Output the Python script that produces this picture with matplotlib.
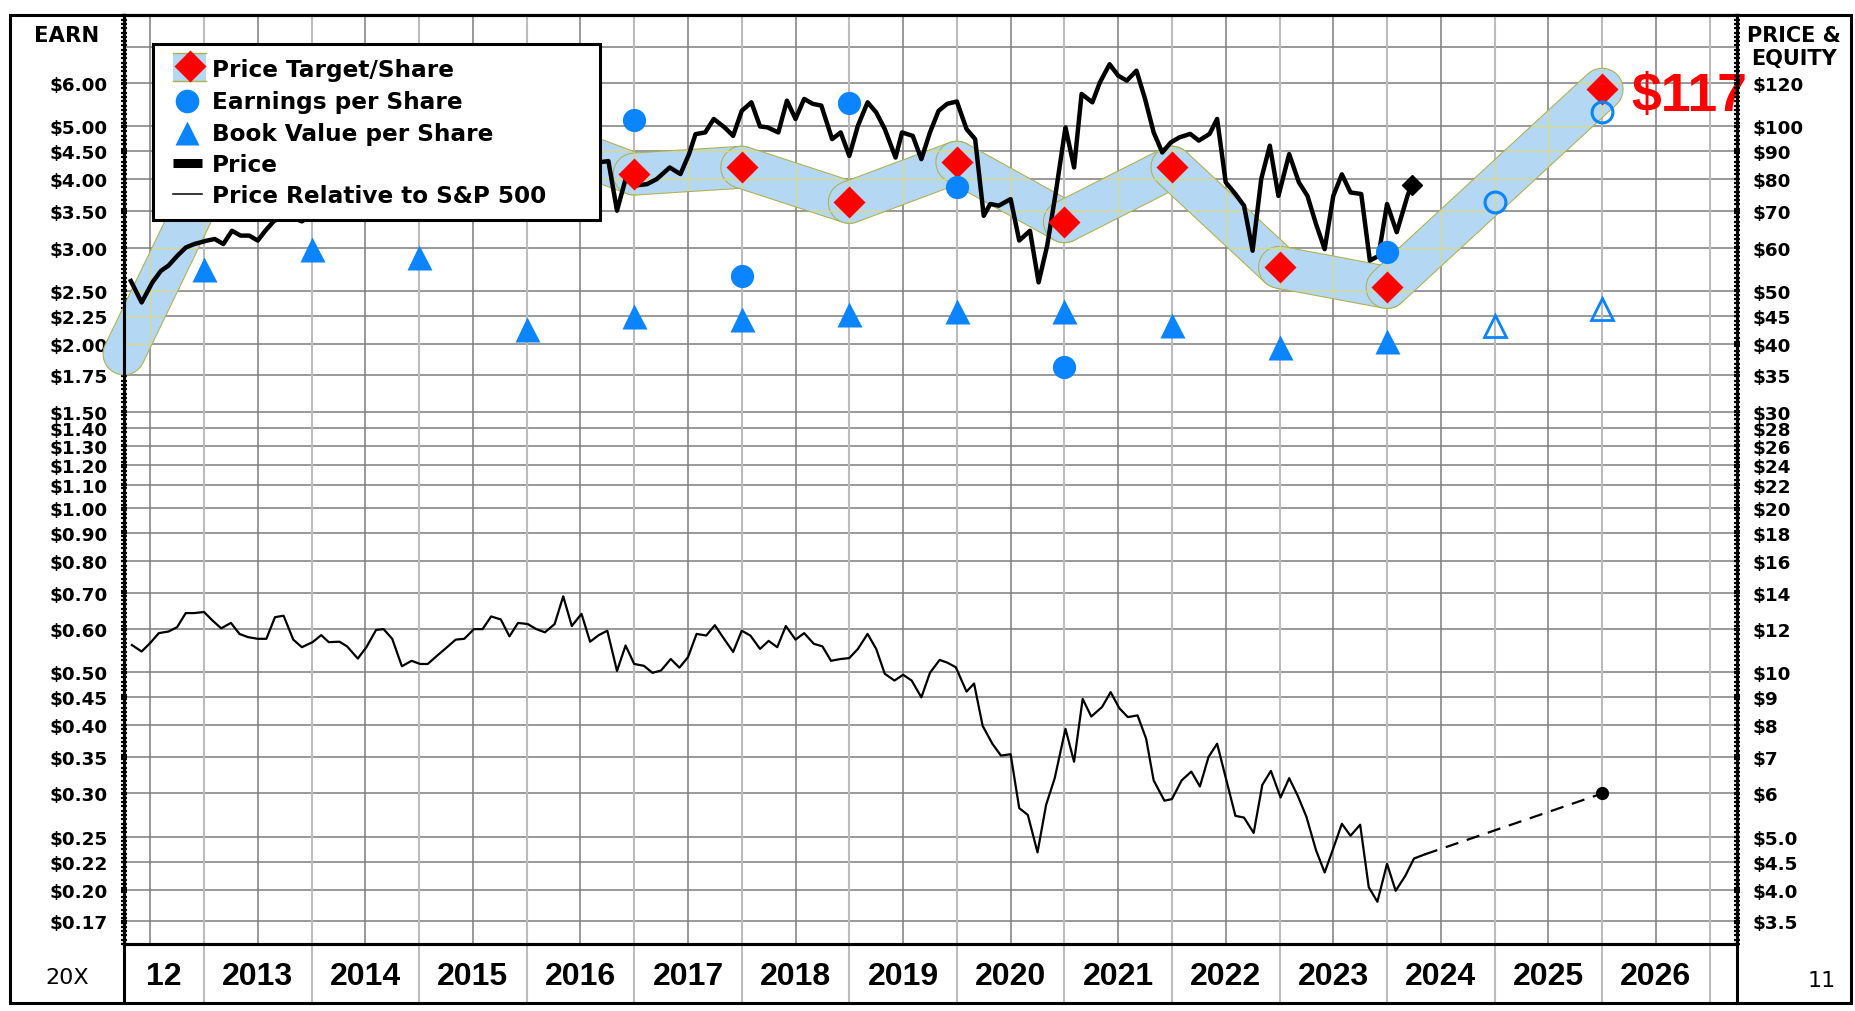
import numpy as np
import matplotlib
matplotlib.use('Agg')
import matplotlib.pyplot as plt
import matplotlib.transforms as mtransforms
from matplotlib.path import Path
from matplotlib.collections import LineCollection
from matplotlib.lines import Line2D
from matplotlib.patches import Rectangle
from matplotlib.ticker import FixedLocator, NullFormatter

W, H = 1856, 1012
RATIO = 20  # price scale is 20x the earnings scale

# ---------------- data ----------------
# monthly share price, $ (right scale)
price_x = [2012.32, 2012.42, 2012.52, 2012.60, 2012.67, 2012.75, 2012.83, 2012.91,
           2013.03, 2013.10, 2013.18, 2013.26, 2013.34, 2013.42, 2013.50, 2013.57,
           2013.65, 2013.77, 2013.91, 2014.10, 2014.40, 2014.75, 2015.10, 2015.50,
           2015.90, 2016.30, 2016.55, 2016.68, 2016.76, 2016.84, 2016.92, 2017.00,
           2017.12, 2017.21, 2017.33, 2017.43, 2017.51, 2017.57, 2017.66, 2017.74,
           2017.84, 2017.92, 2018.00, 2018.09, 2018.17, 2018.24, 2018.34, 2018.42,
           2018.50, 2018.58, 2018.66, 2018.74, 2018.84, 2018.92, 2019.00, 2019.08,
           2019.17, 2019.25, 2019.33, 2019.43, 2019.49, 2019.59, 2019.67, 2019.75,
           2019.83, 2019.91, 2020.00, 2020.09, 2020.17, 2020.25, 2020.31, 2020.39,
           2020.50, 2020.58, 2020.68, 2020.76, 2020.84, 2020.92, 2021.01, 2021.09,
           2021.16, 2021.26, 2021.33, 2021.42, 2021.50, 2021.58, 2021.67, 2021.75,
           2021.83, 2021.91, 2021.99, 2022.07, 2022.17, 2022.25, 2022.35, 2022.42,
           2022.50, 2022.59, 2022.67, 2022.75, 2022.83, 2022.91, 2022.99, 2023.09,
           2023.18, 2023.26, 2023.34, 2023.42, 2023.50, 2023.58, 2023.66, 2023.76,
           2023.84, 2023.92, 2024.00, 2024.09, 2024.19, 2024.23]
price_y = [52.1, 47.6, 51.8, 54.4, 55.6, 57.9, 60.0, 60.9,
           61.8, 62.2, 60.9, 64.4, 63.1, 63.1, 61.8, 64.4,
           67.1, 68.8, 67.0, 71.0, 75.0, 80.0, 84.0, 88.0,
           86.0, 90.0, 92.0, 86.0, 86.4, 70.1, 80.1, 77.9,
           78.4, 80.1, 84.1, 81.8, 89.0, 96.8, 97.5, 103.2,
           99.6, 96.1, 106.8, 110.7, 100.0, 99.6, 97.5, 111.5,
           103.2, 112.3, 110.0, 109.2, 94.8, 97.5, 88.3, 100.3,
           110.7, 106.1, 98.9, 87.7, 97.5, 96.1, 87.1, 97.5,
           106.8, 110.0, 111.1, 98.9, 94.8, 68.6, 72.1, 71.6,
           73.6, 61.8, 64.4, 51.8, 60.5, 75.7, 99.6, 84.1,
           114.7, 110.7, 120.4, 130.0, 123.9, 121.3, 126.5, 112.3,
           97.5, 89.6, 93.5, 95.5, 96.9, 94.2, 96.9, 103.2,
           79.0, 75.2, 71.6, 59.2, 80.1, 92.2, 74.6, 89.0,
           79.0, 74.6, 66.2, 59.6, 74.6, 81.7, 75.7, 75.2,
           56.8, 57.9, 72.1, 64.0, 74.6, 78.2]

# price relative to S&P 500 (plotted on the left scale)
rel_x = [2012.33, 2012.42, 2012.50, 2012.58, 2012.67, 2012.75, 2012.83, 2012.91,
         2013.00, 2013.08, 2013.16, 2013.25, 2013.33, 2013.41, 2013.50, 2013.58,
         2013.66, 2013.74, 2013.83, 2013.91, 2014.01, 2014.09, 2014.16, 2014.26,
         2014.33, 2014.43, 2014.51, 2014.60, 2014.67, 2014.75, 2014.84, 2014.93,
         2015.01, 2015.08, 2015.17, 2015.26, 2015.34, 2015.42, 2015.51, 2015.59,
         2015.67, 2015.76, 2015.84, 2015.92, 2016.01, 2016.09, 2016.17, 2016.26,
         2016.34, 2016.42, 2016.51, 2016.59, 2016.67, 2016.75, 2016.84, 2016.92,
         2017.00, 2017.09, 2017.17, 2017.25, 2017.34, 2017.42, 2017.50, 2017.58,
         2017.67, 2017.75, 2017.83, 2017.92, 2018.00, 2018.08, 2018.17, 2018.25,
         2018.33, 2018.41, 2018.50, 2018.58, 2018.67, 2018.75, 2018.83, 2018.92,
         2019.00, 2019.08, 2019.17, 2019.25, 2019.33, 2019.42, 2019.50, 2019.58,
         2019.67, 2019.75, 2019.84, 2019.91, 2019.99, 2020.09, 2020.16, 2020.24,
         2020.33, 2020.41, 2020.50, 2020.58, 2020.66, 2020.75, 2020.83, 2020.91,
         2021.01, 2021.09, 2021.17, 2021.25, 2021.35, 2021.43, 2021.51, 2021.59,
         2021.68, 2021.76, 2021.83, 2021.93, 2022.00, 2022.09, 2022.18, 2022.26,
         2022.34, 2022.42, 2022.51, 2022.59, 2022.67, 2022.76, 2022.84, 2022.92,
         2023.01, 2023.09, 2023.17, 2023.25, 2023.34, 2023.42, 2023.50, 2023.58,
         2023.66, 2023.75, 2023.83, 2023.91, 2024.00, 2024.08, 2024.17, 2024.25,
         2024.35]
rel_y = [0.561, 0.546, 0.566, 0.590, 0.594, 0.605, 0.642, 0.642,
         0.645, 0.622, 0.602, 0.616, 0.588, 0.580, 0.576, 0.576,
         0.631, 0.635, 0.574, 0.556, 0.568, 0.585, 0.568, 0.569,
         0.558, 0.530, 0.556, 0.598, 0.600, 0.576, 0.513, 0.525,
         0.518, 0.518, 0.537, 0.556, 0.574, 0.576, 0.600, 0.600,
         0.633, 0.625, 0.582, 0.616, 0.613, 0.600, 0.592, 0.613,
         0.689, 0.608, 0.640, 0.569, 0.585, 0.596, 0.503, 0.560,
         0.518, 0.514, 0.499, 0.504, 0.529, 0.510, 0.533, 0.588,
         0.584, 0.610, 0.578, 0.545, 0.596, 0.584, 0.552, 0.571,
         0.556, 0.608, 0.574, 0.590, 0.564, 0.558, 0.525, 0.529,
         0.531, 0.552, 0.588, 0.552, 0.497, 0.483, 0.495, 0.483,
         0.450, 0.499, 0.527, 0.521, 0.511, 0.461, 0.477, 0.399,
         0.370, 0.352, 0.354, 0.282, 0.274, 0.234, 0.286, 0.320,
         0.394, 0.343, 0.447, 0.415, 0.432, 0.460, 0.430, 0.414,
         0.417, 0.378, 0.317, 0.291, 0.293, 0.317, 0.329, 0.309,
         0.350, 0.370, 0.315, 0.273, 0.271, 0.254, 0.311, 0.330,
         0.295, 0.320, 0.297, 0.272, 0.236, 0.215, 0.238, 0.264,
         0.251, 0.263, 0.202, 0.190, 0.223, 0.199, 0.212, 0.228,
         0.232]
rel_proj_x = [2024.35, 2026.0]
rel_proj_y = [0.232, 0.300]

# price target per share, $ (right scale); band starts at the left edge
band_x0, band_y0 = 2012.256, 38.3
target_years = [2013, 2014, 2015, 2016, 2017, 2018, 2019, 2020, 2021, 2022, 2023, 2024, 2026]
target_price = [77.0, 86.0, 92.0, 97.0, 81.8, 84.2, 72.6, 86.0, 66.9, 84.2, 55.2, 50.7, 117.0]

# earnings per share, $ (left scale)
eps_years = [2017, 2018, 2019, 2020, 2021, 2024]
eps = [5.14, 2.66, 5.51, 3.87, 1.81, 2.94]
eps_est_years = [2025, 2026]
eps_est = [3.63, 5.31]

# book value per share, $ (right scale)
bv_years = [2013, 2014, 2015, 2016, 2017, 2018, 2019, 2020, 2021, 2022, 2023, 2024]
bv = [54.8, 59.6, 57.6, 42.6, 45.0, 44.4, 45.4, 46.0, 46.0, 43.2, 39.4, 40.4]
bv_est_years = [2025, 2026]
bv_est = [43.1, 46.3]

earn_ticks = [6, 5, 4.5, 4, 3.5, 3, 2.5, 2.25, 2, 1.75, 1.5, 1.4, 1.3, 1.2, 1.1, 1.0,
              0.9, 0.8, 0.7, 0.6, 0.5, 0.45, 0.4, 0.35, 0.3, 0.25, 0.225, 0.2, 0.175]
earn_labels = ['$6.00', '$5.00', '$4.50', '$4.00', '$3.50', '$3.00', '$2.50', '$2.25',
               '$2.00', '$1.75', '$1.50', '$1.40', '$1.30', '$1.20', '$1.10', '$1.00',
               '$0.90', '$0.80', '$0.70', '$0.60', '$0.50', '$0.45', '$0.40', '$0.35',
               '$0.30', '$0.25', '$0.22', '$0.20', '$0.17']
price_labels = ['$120', '$100', '$90', '$80', '$70', '$60', '$50', '$45', '$40', '$35',
                '$30', '$28', '$26', '$24', '$22', '$20', '$18', '$16', '$14', '$12',
                '$10', '$9', '$8', '$7', '$6', '$5.0', '$4.5', '$4.0', '$3.5']
extra_grid = [7.0]
year_labels = ['12', '2013', '2014', '2015', '2016', '2017', '2018', '2019', '2020',
               '2021', '2022', '2023', '2024', '2025', '2026']
label_years = [2012.63, 2013.5, 2014.5, 2015.5, 2016.5, 2017.5, 2018.5, 2019.5, 2020.5,
               2021.5, 2022.5, 2023.5, 2024.5, 2025.5, 2026.5]

# ---------------- style ----------------
BLUE = '#0a84ff'
BAND = '#b4d7f4'
OLIVE = '#b0b048'
GRID_YEL = '#d8d88c'
GRID_DARK = '#7d7d7d'
GRID_LIGHT = '#bcbcbc'

plt.rcParams['font.family'] = 'DejaVu Sans'
plt.rcParams['font.weight'] = 'bold'

fig = plt.figure(figsize=(W / 100, H / 100), dpi=100)
fig.patch.set_facecolor('white')
pix = mtransforms.Affine2D().scale(1, -1).translate(0, H)  # pixel coords, origin top-left

ax = fig.add_axes([124 / W, (H - 945) / H, (1737 - 124) / W, (945 - 16) / H])
x_lo, x_hi = 2013 - 80 / 107.55, 2013 + 1533 / 107.55
y_lo, y_hi = 0.159, 8.0
ax.set_xlim(x_lo, x_hi)
ax.set_yscale('log')
ax.set_ylim(y_lo, y_hi)

ax2 = ax.twinx()
ax2.set_yscale('log')
ax2.set_ylim(y_lo, y_hi)

# ruler-like ticks on both spines
minor_pos = 10 ** np.arange(np.log10(y_lo), np.log10(y_hi), 4.3 / 546)
for a, labels, pad in ((ax, earn_labels, 9), (ax2, price_labels, 8.5)):
    a.set_yticks(earn_ticks, labels)
    a.yaxis.set_minor_locator(FixedLocator(minor_pos))
    a.yaxis.set_minor_formatter(NullFormatter())
    a.tick_params(axis='y', which='both', direction='inout', length=5, width=1.6,
                  pad=pad, labelsize=13.2, colors='black')
    for s in a.spines.values():
        s.set_linewidth(2.2)
ax.set_xticks([])
ax.tick_params(axis='x', bottom=False, labelbottom=False)

# grid
half_years = np.arange(2012.5, 2027.0, 1.0)
years = np.arange(2013, 2028)
ax.hlines(earn_ticks + extra_grid, x_lo, x_hi, colors=GRID_DARK, lw=1.1, zorder=1)
ax.vlines(half_years, y_lo, y_hi, colors=GRID_DARK, lw=1.1, zorder=1)
ax.vlines(years, -58 / 929, 1, transform=ax.get_xaxis_transform(), colors=GRID_LIGHT,
          lw=1.5, zorder=1, clip_on=False)

# price target band, drawn segment by segment
bx = np.array([band_x0] + target_years, dtype=float)
by = np.array([band_y0] + target_price) / RATIO
for i in range(len(bx) - 1):
    ax.plot(bx[i:i + 2], by[i:i + 2], color=OLIVE, lw=31, solid_capstyle='round',
            zorder=2 + 0.02 * i, clip_on=False)
    ax.plot(bx[i:i + 2], by[i:i + 2], color=BAND, lw=29.5, solid_capstyle='round',
            zorder=2.01 + 0.02 * i, clip_on=False)

# grid lines seen through the band turn yellow
segs = [[(x_lo, v), (x_hi, v)] for v in earn_ticks + extra_grid]
segs += [[(v, y_lo), (v, y_hi)] for v in list(half_years) + list(years)]
pts = ax.transData.transform(np.column_stack([bx, by]))
half = 20.0
pieces = []
for p0, p1 in zip(pts[:-1], pts[1:]):
    d = p1 - p0
    n = np.array([-d[1], d[0]]) / np.hypot(*d) * half
    pieces.append(Path([p0 + n, p0 - n, p1 - n, p1 + n, p0 + n], closed=True))
for p in pts:
    pieces.append(Path.circle(p, half))
for pp in pieces:
    lc = LineCollection(segs, colors=GRID_YEL, linewidths=1.0, zorder=2.6)
    ax.add_collection(lc, autolim=False)
    lc.set_clip_path(pp, mtransforms.IdentityTransform())

# lines
ax.plot(rel_x, rel_y, color='black', lw=1.6, zorder=4)
ax.plot(rel_proj_x, rel_proj_y, color='black', lw=1.6, ls=(0, (6, 4)), zorder=4)
ax.plot(rel_proj_x[-1], rel_proj_y[-1], 'o', color='black', ms=8.5, zorder=4)
ax.plot(price_x, np.array(price_y) / RATIO, color='black', lw=3.2, zorder=5)
ax.plot(price_x[-1], price_y[-1] / RATIO, 'D', color='black', ms=10, zorder=5)

# markers
ax.plot(target_years, np.array(target_price) / RATIO, 'D', color='red', mec='none',
        ms=15.8, zorder=6)
ax.plot(eps_years, eps, 'o', color=BLUE, mec='none', ms=16.7, zorder=6)
ax.plot(eps_est_years, eps_est, 'o', mfc='none', mec=BLUE, mew=2.2, ms=15, zorder=6)
ax.plot(bv_years, np.array(bv) / RATIO, '^', color=BLUE, mec='none', ms=18, zorder=6)
ax.plot(bv_est_years, np.array(bv_est) / RATIO, '^', mfc='none', mec=BLUE, mew=2.0,
        ms=16, zorder=6)

ax.annotate('$%d' % target_price[-1], (target_years[-1], target_price[-1] / RATIO),
            xytext=(29, -21), textcoords='offset pixels', ha='left', va='baseline',
            color='red', fontsize=38.5, fontweight='bold', family='Liberation Sans',
            zorder=8, annotation_clip=False)

# year labels in the band below the plot
for yx, lab in zip(label_years, year_labels):
    ax.text(yx, -40 / 929, lab, transform=ax.get_xaxis_transform(), ha='center',
            va='baseline', fontsize=23, fontweight='bold', family='Liberation Sans')

# frame pieces
fig.add_artist(Rectangle((9.5, 16), 1841.5, 987.5, transform=pix, fill=False,
                         ec='black', lw=2.2, zorder=12))
for xx in (124, 1737):
    fig.add_artist(Line2D([xx, xx], [945, 1003.5], transform=pix, color='black',
                          lw=2.2, zorder=12))

fig.text(67, 41.7, 'EARN', transform=pix, ha='center', va='baseline', fontsize=15.3)
fig.text(1794, 41.7, 'PRICE &', transform=pix, ha='center', va='baseline', fontsize=15)
fig.text(1794, 65, 'EQUITY', transform=pix, ha='center', va='baseline', fontsize=15)
fig.text(67, 984, '20X', transform=pix, ha='center', va='baseline', fontsize=16,
         fontweight='normal')
fig.text(1822, 987, '11', transform=pix, ha='center', va='baseline', fontsize=16,
         fontweight='normal')

# legend box
fig.add_artist(Rectangle((153, 45), 447, 176, transform=pix, fc='white', ec='black',
                         lw=2.2, zorder=10))
fig.add_artist(Rectangle((173, 54), 33, 28, transform=pix, fc=BAND, ec='none', zorder=10.1))
for yy in (54, 82):
    fig.add_artist(Line2D([173, 206], [yy, yy], transform=pix, color=OLIVE, lw=1,
                          zorder=10.2))
fig.add_artist(Line2D([189.5], [67], transform=pix, marker='D', color='red', mec='none',
                      ms=16, zorder=10.3))
fig.add_artist(Line2D([187], [101.5], transform=pix, marker='o', color=BLUE, mec='none',
                      ms=17, zorder=10.3))
fig.add_artist(Line2D([187], [133.5], transform=pix, marker='^', color=BLUE, mec='none',
                      ms=17, zorder=10.3))
fig.add_artist(Line2D([173, 202], [164, 164], transform=pix, color='black', lw=6.5,
                      solid_capstyle='butt', zorder=10.3))
fig.add_artist(Line2D([173, 202], [194.5, 194.5], transform=pix, color='black', lw=1.1,
                      zorder=10.3))
legend_text = ['Price Target/Share', 'Earnings per Share', 'Book Value per Share',
               'Price', 'Price Relative to S&P 500']
for t, yy in zip(legend_text, [77, 109.5, 141.5, 172.5, 203.5]):
    fig.text(212, yy, t, transform=pix, ha='left', va='baseline', fontsize=16.7,
             zorder=10.4)

fig.savefig('out.png', dpi=100)
